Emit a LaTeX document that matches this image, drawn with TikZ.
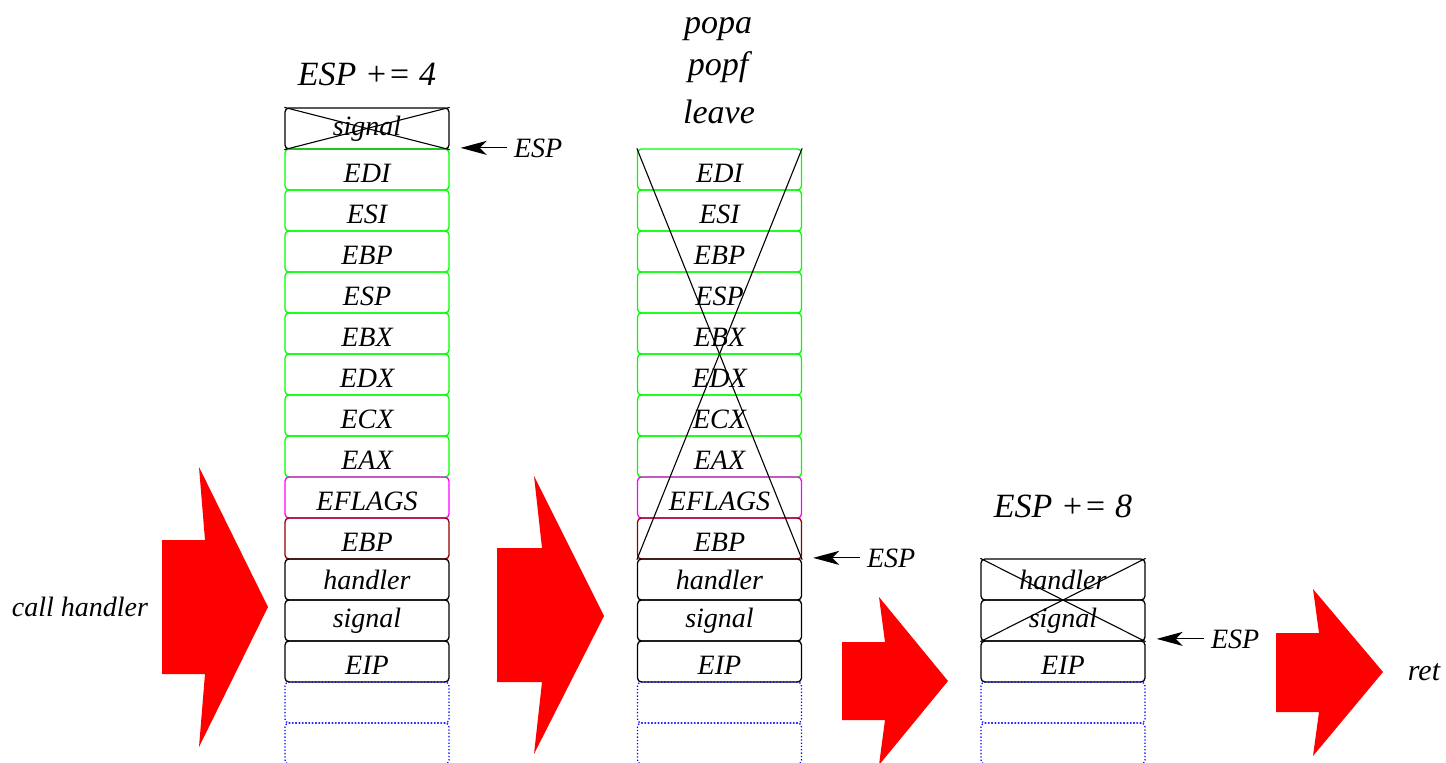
\documentclass[tikz,border=0pt]{standalone}
\usepackage{fontspec}
\setmainfont{Liberation Serif}
\usetikzlibrary{arrows.meta,calc}
\definecolor{xgreen}{RGB}{0,255,0}
\definecolor{xmag}{RGB}{255,0,255}
\definecolor{xdred}{RGB}{144,0,0}
\definecolor{xblue}{RGB}{0,0,255}
\definecolor{xred}{RGB}{255,0,0}
\begin{document}
\begin{tikzpicture}[x=0.5pt,y=-0.5pt,
  cell/.style={draw=black,rounded corners=2pt,minimum width=82pt,minimum height=20.5pt,
    inner sep=0pt,line width=0.65pt,font=\fontsize{14}{16}\selectfont\itshape},
  ccell/.style={cell,text height=12.5pt,text depth=0pt},
  gcell/.style={ccell,draw=xgreen},
  mcell/.style={ccell,draw=xmag},
  rcell/.style={ccell,draw=xdred},
  bcell/.style={cell,draw=xblue,densely dotted},
  cross/.style={line width=0.55pt},
  title/.style={font=\fontsize{17}{20}\selectfont\itshape,inner sep=0pt},
  lbl/.style={font=\fontsize{14}{16}\selectfont\itshape},
  espar/.style={line width=0.6pt,-{Stealth[length=13pt,width=7pt,inset=3.5pt]}},
  bigarrow/.style={fill=xred,draw=none}]
\useasboundingbox (0,0) rectangle (1446,762);

% ---------- stack 1 ----------
\node[cell]  (a0)  at (367,128.5) {signal};
\node[gcell] (a1)  at (367,169.5) {EDI};
\node[gcell] (a2)  at (367,210.5) {ESI};
\node[gcell] (a3)  at (367,251.5) {EBP};
\node[gcell] (a4)  at (367,292.5) {ESP};
\node[gcell] (a5)  at (367,333.5) {EBX};
\node[gcell] (a6)  at (367,374.5) {EDX};
\node[gcell] (a7)  at (367,415.5) {ECX};
\node[gcell] (a8)  at (367,456.5) {EAX};
\node[mcell] (a9)  at (367,497.5) {EFLAGS};
\node[rcell] (a10) at (367,538.5) {EBP};
\node[cell]  (a11) at (367,579.5) {handler};
\node[cell]  (a12) at (367,620.5) {signal};
\node[ccell] (a13) at (367,661.5) {EIP};
\node[bcell] (a14) at (367,702.5) {};
\node[bcell] (a15) at (367,743.5) {};
\draw[cross] (a0.north west) -- (a0.south east);
\draw[cross] (a0.north east) -- (a0.south west);

% ---------- stack 2 ----------
\node[gcell] (b1)  at (719.5,169.5) {EDI};
\node[gcell] (b2)  at (719.5,210.5) {ESI};
\node[gcell] (b3)  at (719.5,251.5) {EBP};
\node[gcell] (b4)  at (719.5,292.5) {ESP};
\node[gcell] (b5)  at (719.5,333.5) {EBX};
\node[gcell] (b6)  at (719.5,374.5) {EDX};
\node[gcell] (b7)  at (719.5,415.5) {ECX};
\node[gcell] (b8)  at (719.5,456.5) {EAX};
\node[mcell] (b9)  at (719.5,497.5) {EFLAGS};
\node[rcell] (b10) at (719.5,538.5) {EBP};
\node[cell]  (b11) at (719.5,579.5) {handler};
\node[cell]  (b12) at (719.5,620.5) {signal};
\node[ccell] (b13) at (719.5,661.5) {EIP};
\node[bcell] (b14) at (719.5,702.5) {};
\node[bcell] (b15) at (719.5,743.5) {};
\draw[cross] (b1.north west) -- (b10.south east);
\draw[cross] (b1.north east) -- (b10.south west);

% ---------- stack 3 ----------
\node[cell]  (c11) at (1063,579.5) {handler};
\node[cell]  (c12) at (1063,620.5) {signal};
\node[ccell] (c13) at (1063,661.5) {EIP};
\node[bcell] (c14) at (1063,702.5) {};
\node[bcell] (c15) at (1063,743.5) {};
\draw[cross] (c11.north west) -- (c12.south east);
\draw[cross] (c11.north east) -- (c12.south west);

% ---------- titles ----------
\node[title,anchor=base] (t1) at (367,85) {ESP += 4};
\node[title,anchor=base] (t2) at (718,33) {popa};
\node[title,anchor=base] (t3) at (718,75) {popf};
\node[title,anchor=base] (t4) at (719,123) {leave};
\node[title,anchor=base] (t5) at (1063,517) {ESP += 8};
\node[lbl,anchor=base,inner sep=0pt] (t6) at (80,616) {call handler};
\node[lbl,anchor=base,inner sep=0pt,font=\fontsize{15}{16}\selectfont\itshape] (t7) at (1424,680) {ret};

% ---------- ESP pointers ----------
\node[lbl,anchor=base west] (e1) at (507,157) {ESP};
\node[lbl,anchor=base west] (e2) at (860,567) {ESP};
\node[lbl,anchor=base west] (e3) at (1204,648) {ESP};
\draw[espar] (e1.west) -- ($(e1.west -| a0.east)+(11,0)$);
\draw[espar] (e2.west) -- ($(e2.west -| b10.east)+(11,0)$);
\draw[espar] (e3.west) -- ($(e3.west -| c12.east)+(11,0)$);

% ---------- big red arrows ----------
\fill[bigarrow] (162,540) -- (205,540) -- (199,467) -- (268,607) -- (199,747) -- (205,674) -- (162,674) -- cycle;
\fill[bigarrow] (497,548) -- (542,548) -- (534,476) -- (604,616) -- (534,754) -- (542,682) -- (497,682) -- cycle;
\fill[bigarrow] (842,642) -- (885,642) -- (879,597) -- (948,681) -- (879,765) -- (885,720) -- (842,720) -- cycle;
\fill[bigarrow] (1276,633) -- (1319,633) -- (1313,589) -- (1383,672) -- (1313,756) -- (1319,712) -- (1276,712) -- cycle;
\end{tikzpicture}
\end{document}
